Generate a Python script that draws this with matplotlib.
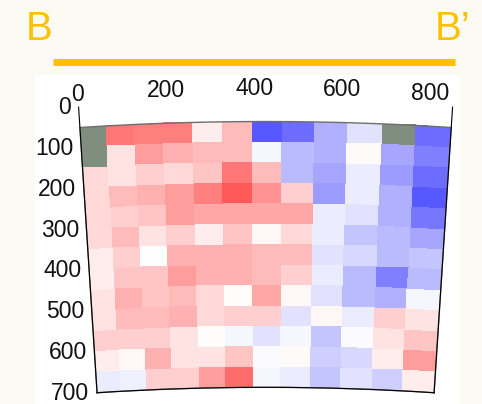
import numpy as np
import matplotlib
matplotlib.use("Agg")
import matplotlib.pyplot as plt
from matplotlib.colors import Normalize
from matplotlib.patches import Rectangle
from matplotlib.lines import Line2D

plt.rcParams["font.family"] = ["Liberation Sans", "DejaVu Sans"]

# section distance (column edges) and depth (row edges)
x_edges = [0, 60, 125, 190, 258, 325, 394, 463, 538, 614, 694, 771, 852]
depth_edges = [50, 100, 150, 200, 250, 300, 350, 400, 450, 500, 550, 600, 650, 700]
x_ticks = [0, 200, 400, 600, 800]
depth_ticks = [0, 100, 200, 300, 400, 500, 600, 700]

nan = np.nan
# anomaly per cell, rows = depth bins (top to bottom), cols = distance bins
values = [
    [nan, 7.0, 6.5, 6.5, 1.0, 3.5, -8.5, -7.5, -4.0, -1.5, nan, -7.5],
    [nan, 1.5, 5.0, 4.0, 3.5, 3.5, -0.5, -3.5, -4.0, 0.3, -4.5, -6.5],
    [2.0, 1.5, 2.5, 2.0, 3.0, 7.0, 3.5, -3.5, -4.5, -1.0, -5.0, -7.5],
    [2.0, 3.5, 4.0, 5.0, 6.5, 8.5, 5.5, 2.5, -5.0, -1.0, -4.0, -8.5],
    [2.0, 2.5, 3.0, 5.0, 4.5, 4.5, 4.5, 4.5, -1.0, -1.5, -4.0, -7.0],
    [2.0, 3.5, 1.5, 2.5, 1.0, 3.0, 0.5, 2.0, -1.0, -3.0, -3.5, -4.5],
    [1.0, 2.5, 0.0, 4.0, 4.0, 4.0, 3.5, 3.5, -1.5, -2.0, -3.5, -3.0],
    [1.0, 3.0, 3.0, 5.0, 4.0, 4.0, 3.5, 2.5, -1.0, -3.5, -6.5, -3.5],
    [1.5, 4.0, 3.0, 3.5, 2.0, 0.2, 4.5, 0.5, -1.5, -3.5, -4.0, -0.5],
    [1.5, 3.5, 3.5, 4.0, 2.0, 2.5, 2.5, -1.5, 0.5, -1.0, 2.5, 1.5],
    [2.5, 2.5, 2.5, 1.5, 0.2, -0.5, -1.5, -0.5, -3.0, -0.3, 1.5, 3.0],
    [1.0, 0.5, 4.0, 1.5, 1.5, 3.0, -0.3, 0.3, -2.5, -2.0, 1.0, 5.0],
    [-1.0, -0.8, 2.5, 2.5, 5.0, 7.5, -0.5, -1.0, -3.0, -1.5, -2.5, 1.0],
]

HALF_ANGLE = 3.7          # degrees, half opening of the fan
R_ORIGIN = 7086           # depth value at the fan's centre
x_mid = (x_edges[0] + x_edges[-1]) / 2


def to_theta(x):
    return (np.asarray(x, dtype=float) - x_mid) / (x_mid - x_edges[0]) * np.deg2rad(HALF_ANGLE)


fig = plt.figure(figsize=(4.82, 4.04), dpi=100)
fig.patch.set_facecolor("#fbfbf4")
fig.add_artist(Rectangle((35 / 482, 0), 425 / 482, 329 / 404,
                         transform=fig.transFigure, facecolor="white",
                         edgecolor="none", zorder=0))

orange = "#ffc000"
fig.text(39 / 482, 1 - 29 / 404, "B", color=orange, fontsize=29, ha="center", va="center")
fig.text(453 / 482, 1 - 29 / 404, "B\u2019", color=orange, fontsize=29, ha="center", va="center")
fig.add_artist(Line2D([53 / 482, 455 / 482], [1 - 61.5 / 404] * 2, color=orange,
                      lw=5, solid_capstyle="butt", transform=fig.transFigure))

ax = fig.add_axes([0.163, -0.074, 0.776, 0.9257], projection="polar")
ax.set_facecolor("none")
ax.set_theta_zero_location("N")
ax.set_theta_direction(-1)
ax.set_thetamin(-HALF_ANGLE)
ax.set_thetamax(HALF_ANGLE)
ax.set_ylim(depth_ticks[-1], depth_ticks[0])
ax.set_rorigin(R_ORIGIN)

cmap = plt.get_cmap("bwr").copy()
cmap.set_bad("#7f8e7f")
data = np.ma.masked_invalid(np.array(values, dtype=float))
ax.pcolormesh(to_theta(x_edges), depth_edges, data, cmap=cmap,
              norm=Normalize(-13, 13), shading="flat")

# outline around the grid
th = np.linspace(to_theta(x_edges[0]), to_theta(x_edges[-1]), 200)
line_kw = dict(color="#6e6e6e", lw=1, clip_on=False)
ax.plot(th, np.full_like(th, depth_edges[0]), **line_kw)
ax.plot(th, np.full_like(th, depth_edges[-1]), **line_kw)
ax.plot([th[0], th[0]], [depth_edges[0], depth_edges[-1]], **line_kw)
ax.plot([th[-1], th[-1]], [depth_edges[0], depth_edges[-1]], **line_kw)

ax.grid(False)
for s in ax.spines.values():
    s.set_visible(False)

ax.set_xticks(to_theta(x_ticks))
ax.set_xticklabels([str(v) for v in x_ticks])
ax.set_yticks(depth_ticks)
ax.set_yticklabels([str(v) for v in depth_ticks])
ax.tick_params(axis="x", labelsize=16.5, pad=2, length=3, direction="in",
               colors="#888888", labelcolor="#111111")
ax.tick_params(axis="y", labelsize=16.5, pad=2, length=3.5,
               colors="#888888", labelcolor="#111111")

fig.savefig("out.png", dpi=100, facecolor=fig.get_facecolor())
